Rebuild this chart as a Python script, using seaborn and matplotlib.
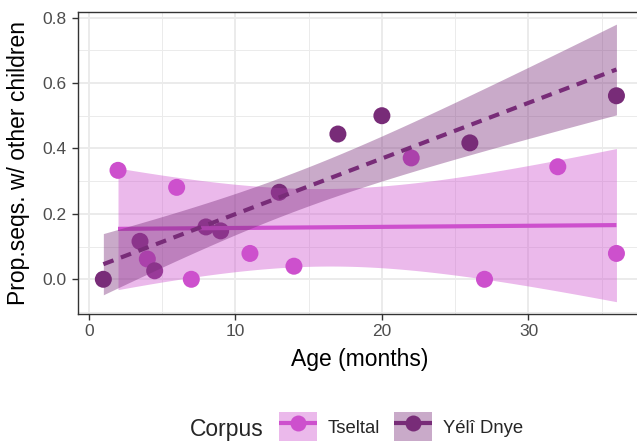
import numpy as np
import pandas as pd
import seaborn as sns
import matplotlib.pyplot as plt
from matplotlib.patches import Patch
from matplotlib.lines import Line2D
from matplotlib.legend_handler import HandlerTuple

# data
corpora = ["Tseltal", "Yélî Dnye"]
tseltal_age = [2, 4, 6, 7, 11, 14, 22, 27, 32, 36]
tseltal_prop = [0.333, 0.062, 0.281, 0.0, 0.079, 0.040, 0.371, 0.0, 0.344, 0.079]
yeli_age = [1, 3.5, 4.5, 8, 9, 13, 17, 20, 26, 36]
yeli_prop = [0.0, 0.116, 0.026, 0.160, 0.148, 0.266, 0.444, 0.500, 0.417, 0.561]

colors = {"Tseltal": "#CD50CD", "Yélî Dnye": "#782C78"}
dashes = {"Tseltal": "-", "Yélî Dnye": (0, (2.6, 1.9))}

df = pd.DataFrame({
    "age": tseltal_age + yeli_age,
    "prop": tseltal_prop + yeli_prop,
    "corpus": ["Tseltal"] * len(tseltal_age) + ["Yélî Dnye"] * len(yeli_age),
})

sns.set_theme(style="white")
plt.rcParams["font.family"] = ["Liberation Sans", "DejaVu Sans"]

fig = plt.figure(figsize=(6.37, 4.41), dpi=100)
ax = fig.add_axes([77.7 / 637, 0.2891, 564.4 / 637, 0.6844])

sns.scatterplot(data=df, x="age", y="prop", hue="corpus", palette=colors,
                s=150, linewidth=0, legend=False, ax=ax, zorder=1)


def lm_band(x, y, grid, t=2.306):
    # 95% confidence band of a straight-line fit (df = n - 2 = 8)
    x = np.asarray(x, float)
    y = np.asarray(y, float)
    b1, b0 = np.polyfit(x, y, 1)
    fit = b0 + b1 * grid
    resid = y - (b0 + b1 * x)
    s = np.sqrt(np.sum(resid ** 2) / (len(x) - 2))
    se = s * np.sqrt(1 / len(x) + (grid - x.mean()) ** 2 / np.sum((x - x.mean()) ** 2))
    return fit - t * se, fit + t * se


z = 2
for name, ages, props in [("Tseltal", tseltal_age, tseltal_prop),
                          ("Yélî Dnye", yeli_age, yeli_prop)]:
    grid = np.linspace(min(ages), max(ages), 80)
    lo, hi = lm_band(ages, props, grid)
    ax.fill_between(grid, lo, hi, color=colors[name], alpha=0.4,
                    linewidth=0, zorder=z)
    sns.regplot(x=ages, y=props, scatter=False, ci=None, ax=ax,
                line_kws={"color": colors[name], "lw": 3.0,
                          "linestyle": dashes[name], "zorder": z + 0.1,
                          "solid_capstyle": "butt", "dash_capstyle": "butt"})
    z += 0.2

ax.set_xlim(-0.75, 37.75)
ax.set_ylim(-0.1046, 0.818)
ax.set_xticks([0, 10, 20, 30])
ax.set_xticks([5, 15, 25, 35], minor=True)
ax.set_yticks([0.0, 0.2, 0.4, 0.6, 0.8])
ax.set_yticklabels(["0.0", "0.2", "0.4", "0.6", "0.8"])
ax.set_yticks([-0.1, 0.1, 0.3, 0.5, 0.7], minor=True)
ax.set_axisbelow(True)
ax.grid(which="major", color="#EBEBEB", lw=1.4)
ax.grid(which="minor", color="#EBEBEB", lw=0.7)
for sp in ax.spines.values():
    sp.set_color("#333333")
    sp.set_linewidth(1.0)
ax.tick_params(which="major", length=4.3, width=1.0, color="#333333",
               labelcolor="#4D4D4D", labelsize=12.5, pad=3.5,
               bottom=True, left=True)
ax.tick_params(which="minor", length=0)

ax.set_xlabel("Age (months)", fontsize=16.5, labelpad=6, color="black")
ax.set_ylabel("Prop.seqs. w/ other children", fontsize=16.5, labelpad=9,
              color="black")

# legend at the bottom, title on the left
handles = [(Patch(facecolor=colors[c], alpha=0.4, edgecolor="none"),
            Line2D([], [], color=colors[c], lw=3.0, marker="o", ms=11.5,
                   mew=0, solid_capstyle="butt"))
           for c in corpora]
fig.legend(handles, corpora, loc="center left",
           bbox_to_anchor=(279 / 637, 14 / 441),
           handler_map={tuple: HandlerTuple(ndivide=1, pad=0)},
           ncol=2, frameon=False, fontsize=13.3, borderpad=0,
           borderaxespad=0, handlelength=2.05, handleheight=2.05,
           handletextpad=0.6, columnspacing=0.75)
fig.text(190 / 637, 14 / 441, "Corpus", fontsize=16.5, ha="left",
         va="center_baseline")

fig.savefig("out.png", dpi=100)
